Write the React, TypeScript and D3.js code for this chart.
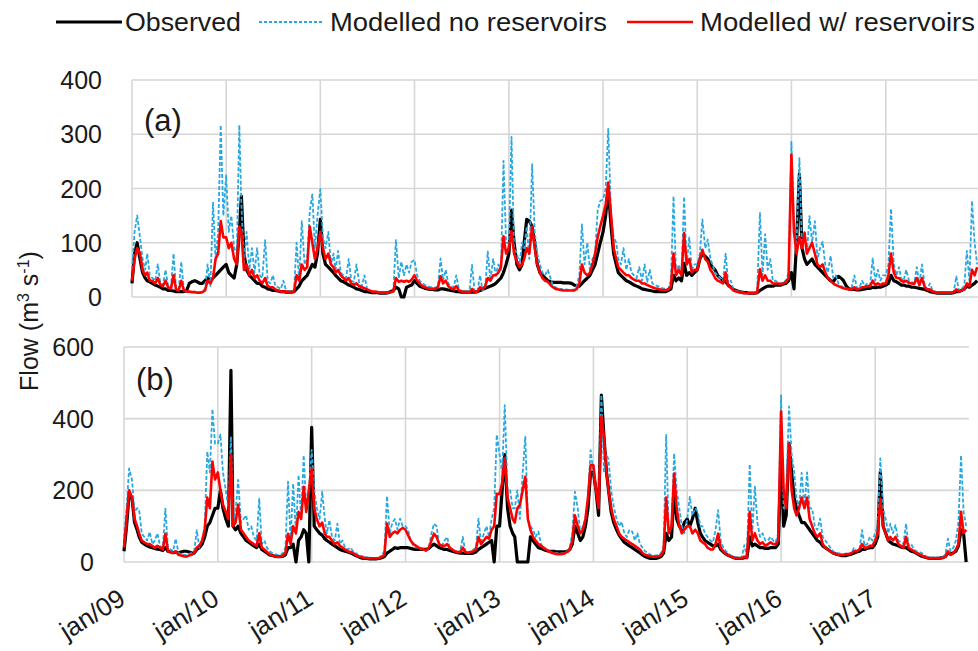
import React from 'react';
import * as d3 from 'd3';

// one row per year, 36 values per row (1st, 11th, 21st of every month)
const years = [2009, 2010, 2011, 2012, 2013, 2014, 2015, 2016, 2017];
const tickLabels = ['jan/09', 'jan/10', 'jan/11', 'jan/12', 'jan/13', 'jan/14', 'jan/15', 'jan/16', 'jan/17'];
const dekadDays = [1, 11, 21];
const seriesNames = ['Observed', 'Modelled no reservoirs', 'Modelled w/ reservoirs'];
const ticksA = [0, 100, 200, 300, 400];
const ticksB = [0, 200, 400, 600];

// panel (a)
const observedA = [
  [25,80,100, 70,45,35, 30,28,25, 22,20,18, 15,15,12, 12,11,10, 10,10,10, 12,25,28, 30,28,25, 25,30,35, 30,35,40, 45,50,55],
  [60,45,40, 35,60,120, 186,80,50, 40,35,30, 25,25,20, 18,15,14, 12,12,11, 10,10,9, 9,9,10, 15,20,30, 35,40,50, 60,55,80],
  [143,80,60, 55,50,45, 40,35,30, 28,25,22, 20,18,15, 14,12,10, 10,9,8, 8,8,7, 7,7,8, 10,12,18, 15,0,0, 18,20,22],
  [30,25,20, 18,16,15, 14,14,13, 13,15,15, 14,13,12, 11,10,10, 9,9,9, 9,9,9, 10,12,14, 16,18,20, 22,25,30, 35,45,60],
  [80,160,100, 60,50,60, 100,143,140, 130,100,60, 45,40,35, 30,28,27, 27,27,27, 26,26,26, 25,22,20, 20,25,30, 35,40,50, 60,80,100],
  [120,150,200, 130,80,60, 45,40,35, 30,28,25, 22,20,18, 15,14,13, 12,11,10, 10,10,10, 10,12,15, 40,30,35, 30,62,40, 45,40,45],
  [50,70,80, 75,70,60, 55,50,40, 35,30,28, 22,18,14, 12,10,9, 8,8,7, 7,7,8, 12,15,18, 20,20,20, 22,22,22, 24,25,30],
  [45,15,100, 227,90,70, 60,65,70, 60,55,50, 45,40,35, 30,28,35, 38,35,30, 20,15,14, 14,13,13, 14,15,16, 16,18,17, 18,18,20],
  [22,25,40, 30,28,25, 22,22,20, 20,18,18, 17,16,15, 14,12,10, 9,8,7, 7,7,7, 7,7,8, 10,10,12, 15,20,18, 22,25,30],
];
const noReservoirsA = [
  [50,120,150, 110,70,50, 80,40,35, 30,60,25, 22,50,20, 18,80,15, 14,65,12, 10,10,9, 10,8,8, 10,15,60, 20,174,70, 120,317,150],
  [224,120,150, 90,80,317, 170,60,120, 50,90,45, 90,40,35, 105,30,25, 40,20,18, 15,30,12, 10,10,12, 100,30,140, 60,70,158, 189,90,150],
  [199,110,90, 120,60,80, 50,85,45, 40,35,70, 30,28,60, 25,20,40, 15,12,10, 10,9,8, 8,8,8, 9,10,105, 35,65,40, 60,45,65],
  [68,40,30, 25,22,20, 18,18,17, 20,71,30, 50,25,20, 18,40,15, 12,10,10, 10,59,10, 10,40,12, 15,84,30, 70,40,60, 50,251,100],
  [100,295,90, 80,60,100, 90,130,70, 245,120,80, 60,45,40, 50,35,20, 18,15,15, 14,14,13, 13,14,20, 40,134,60, 100,50,70, 80,160,177],
  [180,200,310, 150,110,100, 70,60,90, 50,70,45, 40,35,55, 30,60,28, 50,25,22, 20,18,16, 15,15,30, 186,40,60, 40,185,60, 110,50,60],
  [60,80,143, 90,106,70, 60,45,40, 35,30,80, 25,30,15, 12,10,9, 8,8,7, 7,7,8, 155,40,116, 50,70,30, 30,25,25, 28,30,45],
  [286,120,100, 256,90,120, 80,149,100, 140,70,90, 102,60,45, 76,35,40, 25,20,18, 16,15,16, 40,16,18, 30,20,25, 22,71,30, 50,30,40],
  [40,60,163, 60,40,55, 35,30,50, 30,28,25, 55,25,60, 20,15,25, 12,10,9, 8,8,8, 8,8,9, 38,12,15, 20,85,30, 177,100,60],
];
const reservoirsA = [
  [30,70,90, 80,50,40, 45,30,30, 25,35,22, 20,30,18, 15,40,14, 12,30,12, 10,10,9, 9,8,8, 9,12,30, 25,35,70, 80,140,110],
  [110,90,100, 70,60,130, 120,50,60, 40,50,35, 40,30,25, 35,20,18, 18,14,12, 10,10,10, 9,9,10, 40,30,60, 50,55,130, 100,70,90],
  [120,90,70, 80,60,55, 45,50,40, 35,30,35, 25,22,25, 20,18,16, 14,12,10, 10,9,8, 8,8,8, 9,10,35, 28,30,28, 30,28,32],
  [40,30,25, 20,18,16, 15,15,15, 18,38,25, 30,20,16, 14,20,12, 10,9,9, 8,15,9, 10,18,15, 20,35,30, 40,40,45, 55,112,80],
  [90,121,80, 65,55,60, 70,90,80, 130,90,60, 45,35,30, 28,22,18, 15,14,13, 12,12,12, 12,12,15, 25,60,45, 40,45,60, 80,110,130],
  [150,170,211, 150,90,70, 55,50,45, 40,40,35, 32,30,30, 25,25,22, 20,18,16, 15,14,13, 13,14,20, 80,40,50, 40,118,60, 70,45,50],
  [50,70,87, 70,65,50, 45,35,30, 28,25,45, 20,18,12, 10,9,8, 7,7,7, 7,7,8, 51,30,40, 30,30,25, 25,25,24, 25,28,35],
  [262,120,80, 110,90,118, 80,90,100, 80,60,55, 60,45,35, 30,25,22, 20,18,16, 15,14,14, 18,14,15, 18,18,20, 20,30,22, 25,22,25],
  [25,40,80, 45,35,35, 30,28,30, 26,25,24, 35,22,35, 18,14,14, 10,9,8, 8,8,8, 8,8,9, 14,10,12, 14,25,20, 50,40,55],
];

// panel (b)
const observedB = [
  [30,100,190, 180,110,90, 70,55,50, 45,42,40, 38,36,35, 32,40,30, 28,26,28, 25,28,30, 30,28,25, 25,35,40, 50,70,100, 110,130,150],
  [150,200,150, 120,100,535, 100,90,100, 80,70,60, 55,50,45, 40,50,35, 30,25,20, 18,16,15, 15,16,20, 40,40,50, 0,60,70, 90,80,0],
  [376,100,90, 80,75,65, 60,55,50, 45,40,35, 32,30,28, 25,22,18, 15,12,10, 10,9,9, 9,9,10, 12,15,25, 30,35,40, 38,40,40],
  [40,40,38, 36,35,35, 35,35,35, 38,45,50, 45,40,38, 35,35,32, 30,28,26, 25,25,24, 24,24,25, 28,35,40, 45,50,55, 60,0,100],
  [100,200,300, 150,100,80, 70,0,0, 0,0,0, 70,60,50, 40,38,35, 32,30,30, 30,28,28, 28,28,30, 35,50,100, 80,60,70, 100,150,250],
  [250,200,130, 466,350,250, 200,140,110, 90,75,65, 55,50,45, 40,35,30, 25,20,15, 12,10,10, 10,12,15, 25,80,60, 70,200,120, 100,90,110],
  [120,100,120, 150,110,80, 70,60,55, 50,45,45, 50,35,28, 22,18,15, 12,10,10, 10,12,12, 70,45,50, 45,40,40, 38,38,40, 40,40,50],
  [280,100,130, 331,250,180, 150,130,110, 110,100,90, 80,70,60, 55,45,40, 35,30,25, 22,20,18, 18,18,20, 22,25,28, 30,35,35, 38,40,40],
  [50,70,252, 100,80,60, 55,50,48, 45,42,40, 40,35,30, 28,24,20, 16,14,12, 10,10,10, 10,11,12, 15,25,22, 25,30,45, 90,80,0],
];
const noReservoirsB = [
  [70,150,261, 230,140,150, 145,80,70, 60,84,50, 60,80,45, 40,149,40, 35,30,65, 25,22,20, 20,22,25, 30,89,40, 60,100,308, 250,427,330],
  [331,356,250, 200,150,350, 120,140,229, 110,120,130, 90,100,70, 60,177,50, 60,40,30, 25,22,20, 20,25,40, 224,60,219, 80,243,120, 298,150,200],
  [313,200,150, 120,196,120, 80,117,70, 60,107,50, 60,40,35, 40,30,25, 20,18,15, 14,12,12, 11,11,12, 20,30,184, 80,110,120, 90,121,100],
  [100,90,60, 45,40,40, 35,35,30, 40,80,107, 100,50,45, 60,70,40, 35,30,28, 30,70,28, 25,30,35, 40,121,50, 80,100,70, 120,150,355],
  [300,250,438, 200,200,150, 150,200,120, 250,350,120, 100,90,70, 85,50,40, 35,30,28, 26,25,25, 24,25,30, 40,80,196, 150,80,100, 120,180,312],
  [250,200,160, 466,250,300, 285,200,154, 120,100,112, 80,70,89, 85,60,80, 50,40,30, 25,20,18, 18,20,25, 40,355,80, 100,303,200, 150,100,80],
  [120,182,130, 150,140,100, 100,80,70, 60,55,90, 145,60,40, 30,22,18, 15,13,12, 12,47,15, 273,80,210, 110,70,80, 60,60,70, 60,55,80],
  [465,150,200, 434,300,250, 180,150,249, 150,250,150, 149,100,90, 121,70,60, 50,40,30, 25,25,22, 20,25,22, 25,40,30, 35,89,45, 50,70,60],
  [80,100,289, 150,120,80, 107,80,103, 60,55,50, 107,45,50, 35,30,28, 25,20,15, 12,12,12, 12,13,15, 20,65,30, 40,60,112, 298,140,100],
];
const reservoirsB = [
  [40,120,200, 180,120,100, 80,60,55, 50,50,45, 40,45,40, 35,79,30, 28,25,30, 20,18,16, 15,18,20, 25,40,45, 60,90,180, 150,280,230],
  [250,200,160, 140,120,300, 100,110,160, 90,80,70, 60,55,50, 45,80,40, 35,28,22, 18,16,15, 15,18,25, 79,50,100, 80,140,120, 210,140,200],
  [260,150,120, 100,110,80, 70,70,60, 50,55,45, 40,35,30, 28,25,20, 16,14,12, 11,10,10, 10,10,11, 15,20,107, 70,80,85, 80,90,95],
  [90,75,60, 50,45,40, 38,35,32, 40,60,79, 70,50,45, 45,50,40, 35,30,28, 28,40,28, 26,28,30, 35,70,50, 60,70,65, 90,100,190],
  [190,220,290, 180,150,120, 110,150,160, 200,238,120, 90,70,60, 50,45,40, 35,30,26, 24,22,22, 22,24,28, 35,60,130, 100,80,90, 120,180,270],
  [270,200,150, 406,350,250, 200,150,120, 100,80,70, 65,60,55, 50,45,40, 35,25,20, 18,16,15, 15,16,20, 30,180,80, 100,247,150, 100,80,90],
  [100,100,80, 90,80,60, 55,50,40, 35,35,50, 79,40,30, 22,18,15, 12,11,10, 10,15,12, 140,60,80, 60,50,55, 45,50,55, 50,50,60],
  [420,200,150, 330,200,150, 130,150,180, 150,180,120, 100,80,70, 80,50,40, 35,30,25, 22,20,20, 20,22,22, 25,30,30, 35,50,40, 40,45,45],
  [60,80,177, 100,80,60, 70,60,70, 50,45,40, 70,40,35, 30,25,22, 18,15,12, 10,10,10, 10,11,12, 15,30,20, 25,35,50, 140,80,90],
];

const FONT = '"Liberation Sans", Arial, sans-serif';
const BLUE = '#29a8e0';
const RED = '#ff0000';
const GRID = '#d6d6d6';

type Pt = { date: Date; v: number };

const toPoints = (rows: number[][]): Pt[] =>
  rows.flatMap((row, yi) =>
    row.map((v, k) => ({ date: new Date(years[yi], Math.floor(k / 3), dekadDays[k % 3]), v }))
  );

const Panel = (props: any) => {
  const { left, right, top, bottom, yMax, yTicks, obs, noRes, res, label, labelY, tickRight, xLabels } = props;
  const x = d3.scaleTime().domain([new Date(2009, 0, 1), new Date(2018, 0, 1)]).range([left, right]);
  const y = d3.scaleLinear().domain([0, yMax]).range([bottom, top]);
  const line = d3.line<Pt>().x(d => x(d.date)).y(d => y(d.v));
  const yearTicks = years.map(yr => new Date(yr, 0, 1));

  return (
    <g>
      {yTicks.map((t: number) => (
        <line key={'h' + t} x1={left} x2={right} y1={y(t)} y2={y(t)} stroke={GRID} strokeWidth={1.6} />
      ))}
      {yearTicks.map((d, i) => (
        <line key={'v' + i} x1={x(d)} x2={x(d)} y1={top} y2={bottom} stroke={GRID} strokeWidth={1.6} />
      ))}
      {yTicks.map((t: number) => (
        <text key={'t' + t} x={tickRight} y={y(t)} dy="0.36em" textAnchor="end" fontFamily={FONT} fontSize={25} fill="#1a1a1a">{t}</text>
      ))}
      <path d={line(toPoints(obs)) || ''} fill="none" stroke="#000" strokeWidth={3.2} strokeLinejoin="round" />
      <path d={line(toPoints(noRes)) || ''} fill="none" stroke={BLUE} strokeWidth={1.8} strokeDasharray="4,2" strokeLinejoin="round" />
      <path d={line(toPoints(res)) || ''} fill="none" stroke={RED} strokeWidth={2.6} strokeLinejoin="round" />
      <text x={left + 12} y={labelY} fontFamily={FONT} fontSize={31} fill="#1a1a1a">{label}</text>
      {xLabels && yearTicks.map((d, i) => (
        <text key={'x' + i} transform={`translate(${x(d) + 3},603) rotate(-32)`} textAnchor="end" fontFamily={FONT} fontSize={26} fill="#1a1a1a">{tickLabels[i]}</text>
      ))}
    </g>
  );
};

const App = () => {
  return (
    <svg width={978} height={651} style={{ position: 'absolute', left: 0, top: 0, background: '#fff' }}>
      <rect width={978} height={651} fill="#fff" />
      {/* legend */}
      <g fontFamily={FONT} fontSize={25} fill="#1a1a1a">
        <line x1={56} x2={122} y1={22} y2={22} stroke="#000" strokeWidth={3} />
        <text x={125} y={31} textLength={116} lengthAdjust="spacingAndGlyphs">{seriesNames[0]}</text>
        <line x1={259} x2={322} y1={22} y2={22} stroke={BLUE} strokeWidth={1.8} strokeDasharray="3,2" />
        <text x={330} y={31} textLength={277} lengthAdjust="spacingAndGlyphs">{seriesNames[1]}</text>
        <line x1={627} x2={693} y1={22} y2={22} stroke={RED} strokeWidth={2.5} />
        <text x={700} y={31} textLength={275} lengthAdjust="spacingAndGlyphs">{seriesNames[2]}</text>
      </g>
      <Panel left={132} right={980} top={80} bottom={297} yMax={400} yTicks={ticksA}
        obs={observedA} noRes={noReservoirsA} res={reservoirsA} label="(a)" labelY={131} tickRight={102} xLabels={false} />
      <Panel left={124} right={969} top={347} bottom={562} yMax={600} yTicks={ticksB}
        obs={observedB} noRes={noReservoirsB} res={reservoirsB} label="(b)" labelY={390} tickRight={94} xLabels={true} />
      <text transform="translate(38,321) rotate(-90)" textAnchor="middle" fontFamily={FONT} fontSize={25} fill="#1a1a1a">
        Flow (m<tspan dy="-9" fontSize={16}>3</tspan><tspan dy="9"> s</tspan><tspan dy="-9" fontSize={16}>-1</tspan><tspan dy="9">)</tspan>
      </text>
    </svg>
  );
};

export default App;
